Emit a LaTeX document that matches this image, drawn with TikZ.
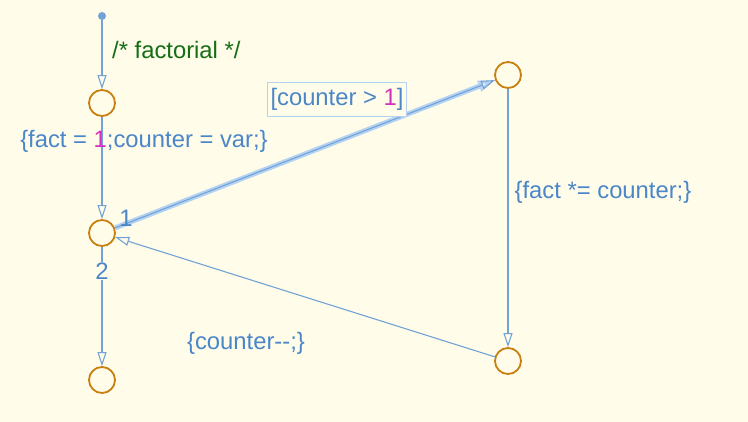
\documentclass[tikz,border=0pt]{standalone}
\usepackage{fontspec}
\setmainfont{Liberation Sans}
\usetikzlibrary{arrows.meta}
\definecolor{bg}{RGB}{255,252,234}
\definecolor{lineblue}{RGB}{115,162,215}
\definecolor{txtblue}{RGB}{74,134,200}
\definecolor{hlblue}{RGB}{180,210,242}
\definecolor{juncor}{RGB}{200,128,16}
\definecolor{grn}{RGB}{20,110,20}
\definecolor{mag}{RGB}{210,50,190}
\tikzset{
  junc/.style={circle, draw=juncor, line width=1.8pt, minimum size=26pt, inner sep=0pt, fill=bg},
  trans/.style={draw=lineblue, line width=1.1pt, -{Triangle[open, length=14pt, width=9pt]}},
  lbl/.style={text=txtblue, font=\fontsize{23.8}{28}\selectfont, inner sep=1pt},
  dot/.style={circle, fill=lineblue, minimum size=8pt, inner sep=0pt}
}
\begin{document}
\begin{tikzpicture}[x=1pt,y=-1pt]
\fill[bg] (0,0) rectangle (748,422);
\useasboundingbox (0,0) rectangle (748,422);
\node[dot] (s) at (102,16) {};
\node[junc] (a) at (102,103) {};
\node[junc] (b) at (102,233) {};
\node[junc] (c) at (102,380) {};
\node[junc] (d) at (508,75) {};
\node[junc] (e) at (508,361) {};
% default transition
\draw[trans] (s) -- (a);
\node[lbl, text=grn, anchor=west] (lf) at (111,50) {/* factorial */};
% a -> b
\draw[trans] (a) -- (b);
\node[lbl] (l1) at (144,141) {\{fact = \textcolor{mag}{1};counter = var;\}};
% b -> d highlighted
\draw[draw=hlblue, line width=5pt, -{Triangle[open, length=16pt, width=11pt, line width=3pt]}, shorten >=1pt] (b) -- (d);
\draw[trans] (b) -- (d);
\node[lbl, draw=hlblue, line width=1pt, fill=bg, inner xsep=3pt, inner ysep=6pt] (lc) at (337,99.5) {[counter > \textcolor{mag}{1}]};
\node[lbl] (n1) at (126,218) {1};
% d -> e
\draw[trans] (d) -- (e);
\node[lbl] (l2) at (603,192) {\{fact *= counter;\}};
% e -> b
\draw[trans] (e) -- (b);
\node[lbl] (l3) at (246,343) {\{counter-{}-;\}};
% b -> c
\draw[trans] (b) -- (c);
\node[lbl, fill=bg] (n2) at (102,271) {2};
\end{tikzpicture}
\end{document}
